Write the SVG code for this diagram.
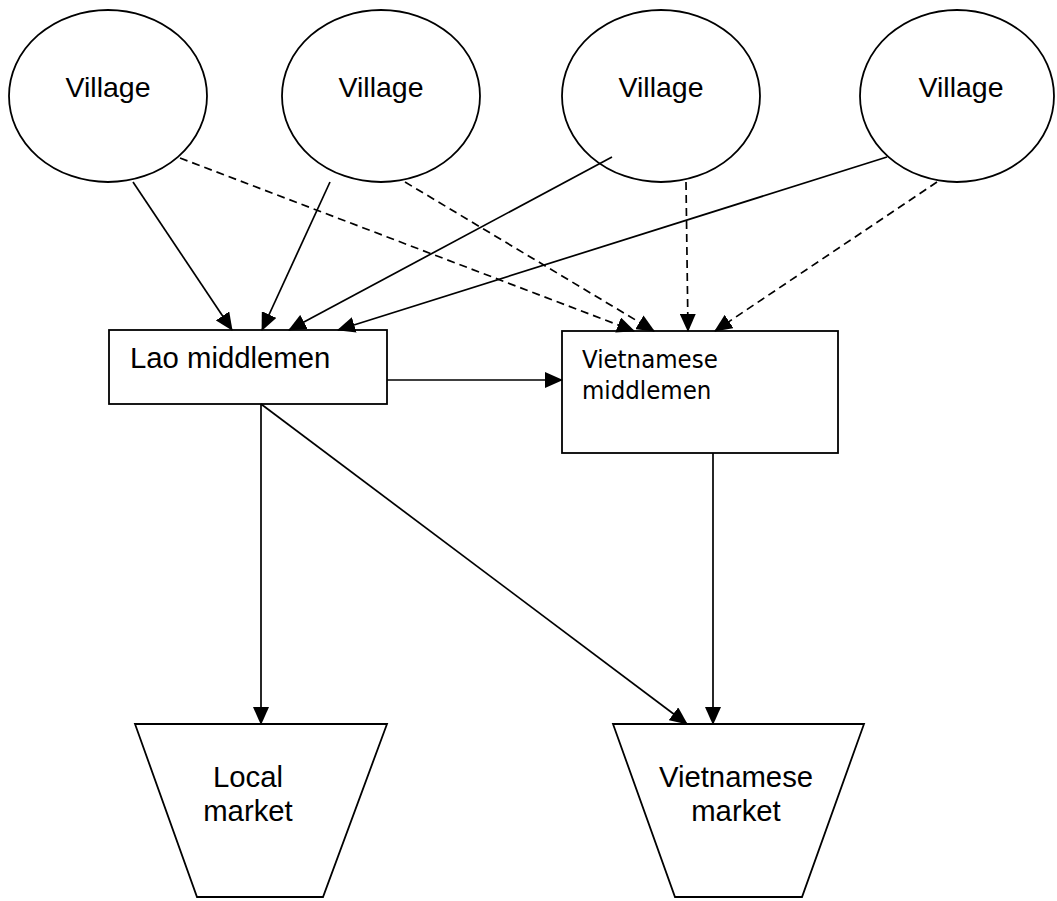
<svg xmlns="http://www.w3.org/2000/svg" width="1057" height="901" viewBox="0 0 1057 901">
<style>
.shape{fill:#fff;stroke:#000;stroke-width:1.8}
.t{font-family:"Liberation Sans",Arial,sans-serif;font-size:28.5px;fill:#000}
.tl{font-size:29.3px}
.tv{font-family:"DejaVu Sans Condensed","DejaVu Sans",sans-serif;font-stretch:condensed;font-size:25.5px;fill:#000}
.c{fill:none;stroke:#000;stroke-width:1.7}
.d{stroke-dasharray:8 5}
</style>
<defs>
<marker id="ah" markerUnits="userSpaceOnUse" markerWidth="18" markerHeight="16" viewBox="0 0 18 16" refX="17" refY="8" orient="auto">
<path d="M0,0 L18,8 L0,16 Z" fill="#000"/>
</marker>
</defs>
<rect width="1057" height="901" fill="#fff"/>
<g id="village1"><ellipse class="shape" cx="108" cy="96" rx="99" ry="86"/><text class="t" x="108" y="97" text-anchor="middle">Village</text></g>
<g id="village2"><ellipse class="shape" cx="381" cy="96" rx="99" ry="86"/><text class="t" x="381" y="97" text-anchor="middle">Village</text></g>
<g id="village3"><ellipse class="shape" cx="661" cy="96" rx="99" ry="86"/><text class="t" x="661" y="97" text-anchor="middle">Village</text></g>
<g id="village4"><ellipse class="shape" cx="957" cy="96" rx="97" ry="86"/><text class="t" x="961" y="97" text-anchor="middle">Village</text></g>
<g id="lao-middlemen"><rect class="shape" x="109" y="330" width="278" height="74"/><text class="t tl" x="130" y="368">Lao middlemen</text></g>
<g id="vietnamese-middlemen"><rect class="shape" x="562" y="331" width="276" height="122"/><text class="tv" x="582" y="368">Vietnamese</text><text class="tv" x="582" y="399">middlemen</text></g>
<g id="local-market"><polygon class="shape" points="135,724 387,724 323,897 197,897"/><text class="t tl" x="248" y="787" text-anchor="middle">Local</text><text class="t tl" x="248" y="821" text-anchor="middle">market</text></g>
<g id="vietnamese-market"><polygon class="shape" points="613,724 864,724 802,897 675,897"/><text class="t tl" x="736" y="787" text-anchor="middle">Vietnamese</text><text class="t tl" x="736" y="821" text-anchor="middle">market</text></g>
<g id="connectors">
<line class="c" x1="133" y1="182" x2="232" y2="330" marker-end="url(#ah)"/>
<line class="c" x1="330" y1="182" x2="262" y2="330" marker-end="url(#ah)"/>
<line class="c" x1="612" y1="157" x2="289" y2="330" marker-end="url(#ah)"/>
<line class="c" x1="887" y1="157" x2="338" y2="330" marker-end="url(#ah)"/>
<line class="c d" x1="180" y1="158" x2="634" y2="331" marker-end="url(#ah)"/>
<line class="c d" x1="405" y1="182" x2="654" y2="331" marker-end="url(#ah)"/>
<line class="c d" x1="686" y1="182" x2="688" y2="331" marker-end="url(#ah)"/>
<line class="c d" x1="937" y1="182" x2="715" y2="331" marker-end="url(#ah)"/>
<line class="c" x1="387" y1="380" x2="562" y2="380" marker-end="url(#ah)"/>
<line class="c" x1="261" y1="404" x2="261" y2="724" marker-end="url(#ah)"/>
<line class="c" x1="261" y1="404" x2="687" y2="724" marker-end="url(#ah)"/>
<line class="c" x1="713" y1="453" x2="713" y2="724" marker-end="url(#ah)"/>
</g>
</svg>
